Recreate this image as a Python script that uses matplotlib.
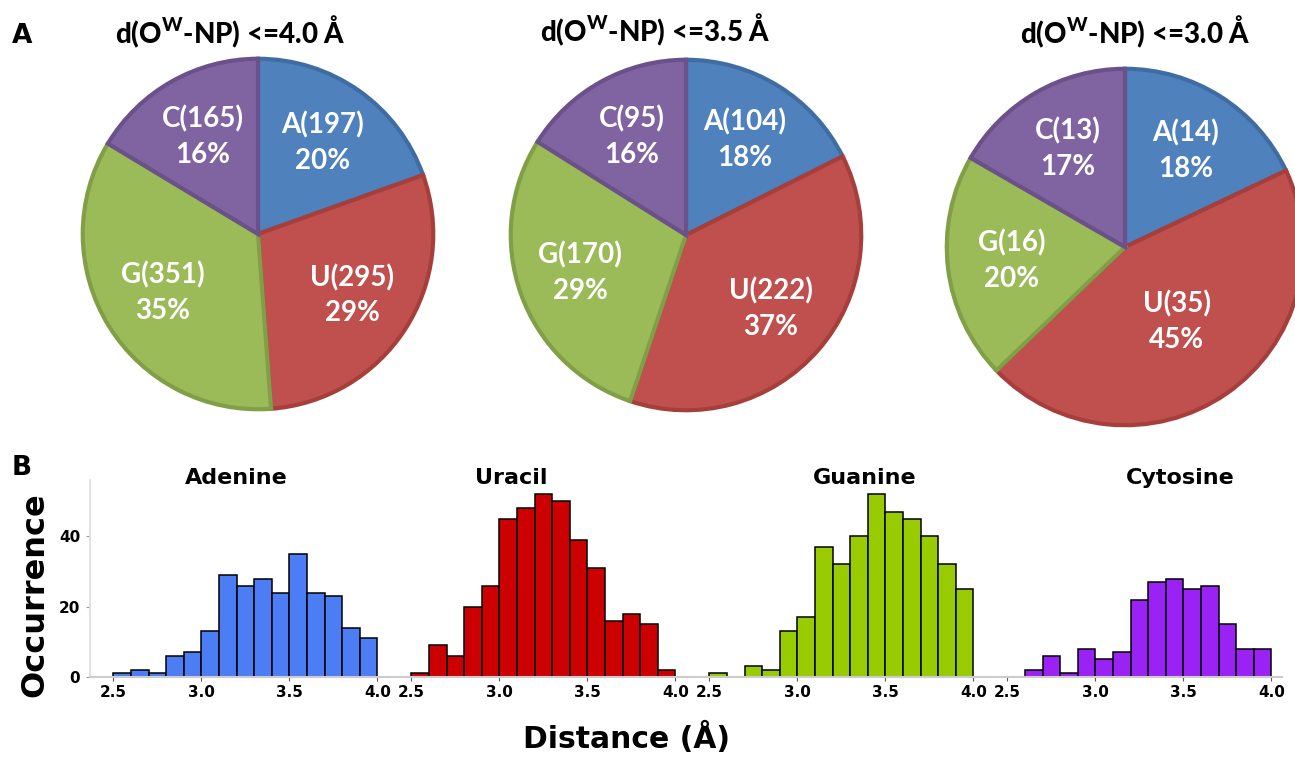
import numpy as np
import matplotlib
matplotlib.use('Agg')
import matplotlib.pyplot as plt

plt.rcParams['mathtext.fontset'] = 'custom'
plt.rcParams['mathtext.rm'] = 'Lato'
plt.rcParams['mathtext.bf'] = 'Lato:black'

# Panel A: counts per base within each distance cut-off
pie_titles = [r'd(O$^{\mathbf{W}}$-NP) <=4.0 Å',
              r'd(O$^{\mathbf{W}}$-NP) <=3.5 Å',
              r'd(O$^{\mathbf{W}}$-NP) <=3.0 Å']
bases = ['A', 'U', 'G', 'C']
counts_40 = [197, 295, 351, 165]
counts_35 = [104, 222, 170, 95]
counts_30 = [14, 35, 16, 13]
pct_40 = ['20%', '29%', '35%', '16%']
pct_35 = ['18%', '37%', '29%', '16%']
pct_30 = ['18%', '45%', '20%', '17%']

pie_colors = ['#4F81BD', '#C0504D', '#9BBB59', '#8064A2']
pie_edges = ['#3F6DA3', '#A63F3C', '#809F47', '#6A5189']

# Panel B: histograms of distance, bins 2.5-4.0 step 0.1
bin_left = np.round(np.arange(2.5, 4.0, 0.1), 2)
names = ['Adenine', 'Uracil', 'Guanine', 'Cytosine']
adenine = [1, 2, 1, 6, 7, 13, 29, 26, 28, 24, 35, 24, 23, 14, 11]
uracil = [1, 9, 6, 20, 26, 45, 48, 52, 50, 39, 31, 16, 18, 15, 2]
guanine = [1, 0, 3, 2, 13, 17, 37, 32, 40, 52, 47, 45, 40, 32, 25]
cytosine = [0, 2, 6, 1, 8, 5, 7, 22, 27, 28, 25, 26, 15, 8, 8]
hist_colors = ['#4C7DF5', '#CC0000', '#99CC00', '#9B22F5']

W, H = 1295, 758
fig = plt.figure(figsize=(W / 100, H / 100), dpi=100)

# pies: (centre x, centre y, radius) in pixels
pie_geo = [(258, 234, 177), (686, 235, 177), (1125, 247, 180)]
title_pos = [(230, 32), (655, 30), (1135, 32)]
all_counts = [counts_40, counts_35, counts_30]
all_pcts = [pct_40, pct_35, pct_30]

for i in range(3):
    cx, cy, r = pie_geo[i]
    ax = fig.add_axes([(cx - r) / W, 1 - (cy + r) / H, 2 * r / W, 2 * r / H])
    labels = [f'{b}({c})\n{p}' for b, c, p in zip(bases, all_counts[i], all_pcts[i])]
    wedges, texts = ax.pie(all_counts[i], labels=labels, colors=pie_colors,
                           startangle=90, counterclock=False,
                           labeldistance=0.64,
                           wedgeprops=dict(linewidth=3),
                           textprops=dict(color='white', fontsize=20,
                                          fontweight='bold', family='Lato',
                                          ha='center', va='center',
                                          linespacing=1.45))
    for w, ec in zip(wedges, pie_edges):
        w.set_edgecolor(ec)
    if i == 2:
        x, y = texts[1].get_position()
        texts[1].set_position((x * 0.8, y * 0.8))
    ax.set_xlim(-1.01, 1.01)
    ax.set_ylim(-1.01, 1.01)
    tx, ty = title_pos[i]
    fig.text(tx / W, 1 - ty / H, pie_titles[i], fontsize=20, fontweight=900,
             family='Lato', ha='center', va='center')

fig.text(12 / W, 1 - 36 / H, 'A', fontsize=19, fontweight='bold', ha='left', va='center')
fig.text(12 / W, 1 - 468 / H, 'B', fontsize=19, fontweight='bold', ha='left', va='center')

# histograms
all_hist = [adenine, uracil, guanine, cytosine]
title_x = [3.20, 3.07, 3.385, 3.48]
px_per_unit = 176.0
panel_w = 298
for i in range(4):
    left = 90 + panel_w * i
    ax = fig.add_axes([left / W, 1 - 677 / H, panel_w / W, (677 - 480) / H])
    vals = np.array(all_hist[i])
    keep = vals > 0
    ax.bar(bin_left[keep], vals[keep], width=0.1, align='edge',
           color=hist_colors[i], edgecolor='black', linewidth=1.1)
    ax.set_xlim(2.5 - 23.3 / px_per_unit, 2.5 - 23.3 / px_per_unit + panel_w / px_per_unit)
    ax.set_ylim(0, 56)
    ax.set_xticks([2.5, 3.0, 3.5, 4.0])
    ax.set_xticklabels(['2.5', '3.0', '3.5', '4.0'], fontweight='bold', fontsize=11)
    for s in ['top', 'right']:
        ax.spines[s].set_visible(False)
    ax.spines['bottom'].set_color('#cccccc')
    ax.spines['bottom'].set_linewidth(1.5)
    ax.tick_params(axis='x', length=3, color='#555555', pad=3)
    if i == 0:
        ax.spines['left'].set_color('#dddddd')
        ax.spines['left'].set_linewidth(1.2)
        ax.set_yticks([0, 20, 40])
        ax.set_yticklabels(['0', '20', '40'], fontweight='bold', fontsize=11)
        ax.tick_params(axis='y', length=3, color='#999999', pad=4)
    else:
        ax.spines['left'].set_visible(False)
        ax.set_yticks([])
    ax.text(title_x[i], 56.6, names[i], fontsize=16, fontweight='bold',
            ha='center', va='center')
    ax.patch.set_alpha(0)

fig.text(35 / W, 1 - 595 / H, 'Occurrence', fontsize=23, fontweight='bold',
         rotation=90, ha='center', va='center')
fig.text(627 / W, 1 - 738 / H, 'Distance (Å)', fontsize=21.5, fontweight='bold',
         ha='center', va='center')

fig.savefig('out.png', dpi=100)
